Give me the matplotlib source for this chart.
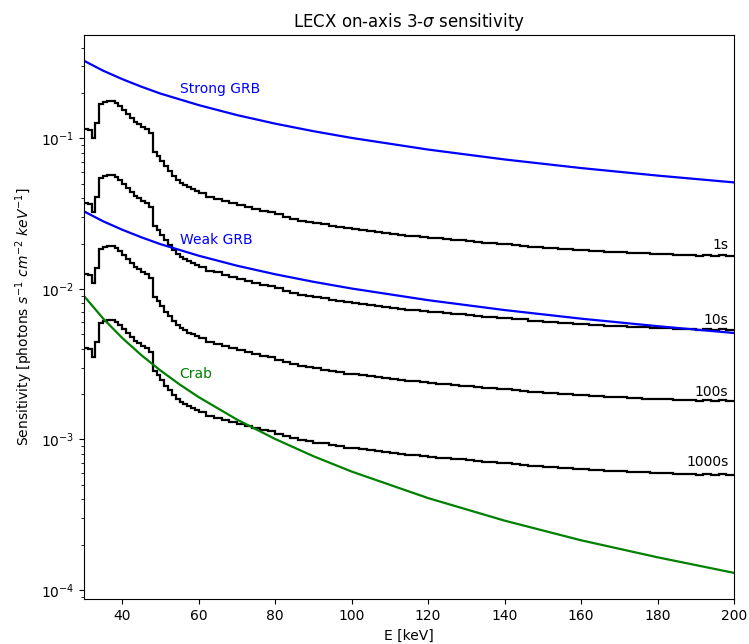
import numpy as np
import matplotlib
matplotlib.use("Agg")
import matplotlib.pyplot as plt

# ============================================================
# Data
# ============================================================

# bin edges [keV]: 1 keV up to 60 keV, 2 keV above
edges = np.concatenate([np.arange(30, 60, 1), np.arange(60, 201, 2)])

sens_1s = [0.116, 0.113, 0.100, 0.127, 0.170, 0.175, 0.178, 0.178, 0.172, 0.164,
           0.154, 0.145, 0.136, 0.129, 0.124, 0.119, 0.115, 0.109, 0.0815, 0.0760,
           0.0710, 0.0650, 0.0605, 0.0565, 0.0530, 0.0505, 0.0490, 0.0472, 0.0458, 0.0445,
           0.0432, 0.0410, 0.0398, 0.0385, 0.0372, 0.0362, 0.0352, 0.0340, 0.0330, 0.0324,
           0.0312, 0.0302, 0.0292, 0.0283, 0.0280, 0.0272, 0.0268, 0.0262, 0.0258, 0.0252,
           0.0251, 0.0246, 0.0241, 0.0240, 0.0235, 0.0232, 0.0229, 0.0225, 0.0224, 0.0220,
           0.0219, 0.0216, 0.0214, 0.0211, 0.0210, 0.0208, 0.0206, 0.0203, 0.0202, 0.0199,
           0.0198, 0.0195, 0.0194, 0.0191, 0.0190, 0.0188, 0.0186, 0.0184, 0.0183, 0.0181,
           0.0180, 0.0179, 0.0178, 0.0176, 0.0176, 0.0175, 0.0174, 0.0173, 0.0172, 0.0171,
           0.0170, 0.0170, 0.0169, 0.0168, 0.0168, 0.0165, 0.0167, 0.0165, 0.0167, 0.0166]

sens_10s = [0.0374, 0.0365, 0.0323, 0.0410, 0.0548, 0.0565, 0.0574, 0.0574, 0.0555, 0.0529,
            0.0497, 0.0468, 0.0439, 0.0416, 0.0400, 0.0384, 0.0371, 0.0352, 0.0263, 0.0245,
            0.0229, 0.0210, 0.0195, 0.0182, 0.0171, 0.0163, 0.0158, 0.0152, 0.0148, 0.0144,
            0.01394, 0.01323, 0.01284, 0.01242, 0.01200, 0.01168, 0.01135, 0.01097, 0.01065, 0.01045,
            0.01006, 0.00974, 0.00942, 0.00913, 0.00903, 0.00877, 0.00865, 0.00845, 0.00832, 0.00813,
            0.00810, 0.00794, 0.00777, 0.00774, 0.00758, 0.00748, 0.00739, 0.00726, 0.00723, 0.00710,
            0.00706, 0.00697, 0.00690, 0.00681, 0.00677, 0.00671, 0.00665, 0.00655, 0.00652, 0.00642,
            0.00639, 0.00629, 0.00626, 0.00616, 0.00613, 0.00606, 0.00600, 0.00594, 0.00590, 0.00584,
            0.00581, 0.00577, 0.00574, 0.00568, 0.00568, 0.00565, 0.00561, 0.00558, 0.00555, 0.00552,
            0.00548, 0.00548, 0.00545, 0.00542, 0.00542, 0.00532, 0.00539, 0.00532, 0.00539, 0.00535]

sens_100s = [0.0126, 0.0123, 0.0109, 0.0138, 0.0185, 0.0190, 0.0193, 0.0193, 0.0187, 0.0178,
             0.0167, 0.0158, 0.0148, 0.0140, 0.0135, 0.0129, 0.0125, 0.0118, 0.00886, 0.00826,
             0.00772, 0.00707, 0.00658, 0.00614, 0.00576, 0.00549, 0.00533, 0.00513, 0.00498, 0.00484,
             0.00470, 0.00446, 0.00433, 0.00418, 0.00404, 0.00393, 0.00383, 0.00370, 0.00359, 0.00352,
             0.00339, 0.00328, 0.00317, 0.00308, 0.00304, 0.00296, 0.00291, 0.00285, 0.00280, 0.00274,
             0.00273, 0.00267, 0.00262, 0.00261, 0.00255, 0.00252, 0.00249, 0.00245, 0.00243, 0.00239,
             0.00238, 0.00235, 0.00233, 0.00229, 0.00228, 0.00226, 0.00224, 0.00221, 0.00220, 0.00216,
             0.00215, 0.00212, 0.00211, 0.00208, 0.00207, 0.00204, 0.00202, 0.00200, 0.00199, 0.00197,
             0.00196, 0.00195, 0.00193, 0.00191, 0.00191, 0.00190, 0.00189, 0.00188, 0.00187, 0.00186,
             0.00185, 0.00185, 0.00184, 0.00183, 0.00183, 0.00179, 0.00182, 0.00179, 0.00182, 0.00180]

sens_1000s = [0.00407, 0.00396, 0.00351, 0.00446, 0.00596, 0.00614, 0.00625, 0.00625, 0.00604, 0.00575,
              0.00540, 0.00509, 0.00477, 0.00453, 0.00435, 0.00418, 0.00404, 0.00382, 0.00286, 0.00267,
              0.00249, 0.00228, 0.00212, 0.00198, 0.00186, 0.00177, 0.00172, 0.00166, 0.00161, 0.00156,
              0.001516, 0.001439, 0.001396, 0.001351, 0.001305, 0.001270, 0.001235, 0.001193, 0.001158, 0.001137,
              0.001095, 0.001060, 0.001025, 0.000993, 0.000982, 0.000954, 0.000940, 0.000919, 0.000905, 0.000884,
              0.000881, 0.000863, 0.000846, 0.000842, 0.000825, 0.000814, 0.000804, 0.000789, 0.000786, 0.000772,
              0.000768, 0.000758, 0.000751, 0.000740, 0.000737, 0.000730, 0.000723, 0.000712, 0.000709, 0.000698,
              0.000695, 0.000684, 0.000681, 0.000670, 0.000667, 0.000660, 0.000653, 0.000646, 0.000642, 0.000635,
              0.000632, 0.000628, 0.000625, 0.000618, 0.000618, 0.000614, 0.000611, 0.000607, 0.000604, 0.000600,
              0.000596, 0.000596, 0.000593, 0.000589, 0.000589, 0.000579, 0.000586, 0.000579, 0.000586, 0.000582]

exposures = ["1s", "10s", "100s", "1000s"]
label_pos = [0.0196, 0.00622, 0.00207, 0.00071]

# reference spectra
grb_energy = [30, 35, 40, 45, 50, 60, 70, 80, 90, 100, 120, 140, 160, 180, 200]
strong_grb = [0.327, 0.281, 0.247, 0.220, 0.198, 0.166, 0.1425, 0.125, 0.1114, 0.1005,
              0.0841, 0.0723, 0.0634, 0.0565, 0.0509]
weak_grb = [0.0327, 0.0281, 0.0247, 0.0220, 0.0198, 0.0166, 0.01425, 0.0125, 0.01114, 0.01005,
            0.00841, 0.00723, 0.00634, 0.00565, 0.00509]

crab_energy = [30, 35, 40, 45, 50, 55, 60, 70, 80, 90, 100, 120, 140, 160, 180, 200]
crab = [0.00897, 0.00636, 0.00472, 0.00363, 0.00287, 0.00232, 0.00191, 0.001356, 0.001007,
        0.000774, 0.000612, 0.000408, 0.000289, 0.000214, 0.000165, 0.000130]

# ============================================================
# Plot
# ============================================================

fig = plt.figure(figsize=(7.49, 6.44), dpi=100)
ax = fig.add_axes([0.1121, 0.0694, 0.8679, 0.8763])

for sens, name, ypos in zip([sens_1s, sens_10s, sens_100s, sens_1000s], exposures, label_pos):
    ax.stairs(sens, edges, baseline=None, color="black", linewidth=1.6)
    ax.text(198.5, ypos, name, ha="right", va="center", fontsize=10)

ax.plot(grb_energy, strong_grb, color="blue", linewidth=1.6)
ax.plot(grb_energy, weak_grb, color="blue", linewidth=1.6)
ax.plot(crab_energy, crab, color="green", linewidth=1.6)

ax.text(55, 0.212, "Strong GRB", color="blue", va="center", fontsize=10)
ax.text(55, 0.0211, "Weak GRB", color="blue", va="center", fontsize=10)
ax.text(55, 0.00272, "Crab", color="green", va="center", fontsize=10)

ax.set_yscale("log")
ax.set_xlim(30, 200)
ax.set_ylim(8.68e-5, 0.485)
ax.set_title(r"LECX on-axis 3-$\sigma$ sensitivity", fontsize=12)
ax.set_xlabel("E [keV]")
ax.set_ylabel(r"Sensitivity [photons $s^{-1}$ $cm^{-2}$ $keV^{-1}$]")

plt.savefig("out.png", dpi=100)
